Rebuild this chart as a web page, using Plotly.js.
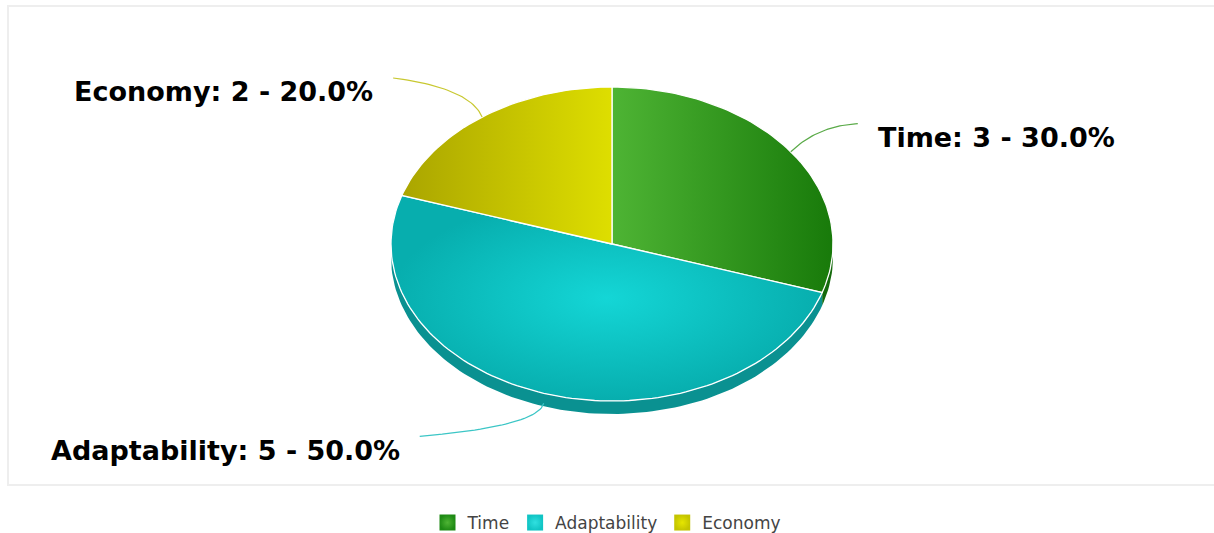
<!DOCTYPE html>
<html><head><meta charset="utf-8">
<script src="https://cdn.plot.ly/plotly-3.0.1.min.js"></script>
<style>html,body{margin:0;padding:0;background:#fff}#chart{width:1214px;height:533px}</style>
</head><body><div id="chart"></div>
<script>
// ---- data ----
const categories = ['Time', 'Adaptability', 'Economy'];
const values = [3, 5, 2];

// ---- styles ----
const faceLight = ['#4eb434', '#14d6d6', '#aaa500'];
const faceDark  = ['#187a0a', '#07aeae', '#dede00'];
const wallColor = ['#156a0c', '#0a9191', '#9a9a00'];
const leaderColor = ['#5aaa48', '#3cc6c6', '#c8c830'];
const legendColor = ['#1e8a14', '#10c4c4', '#c4c400'];
const legendLight = ['#4eb434', '#30e0e0', '#e6e600'];
// label geometry (offsets from the slice anchor, pixels)
const leaderEnd  = [[67, -28], [-124, 33], [-89, -39]];
const leaderCtrl = [[27, -26], [-6, 23], [-12, -29]];
const labelSide  = ['left', 'right', 'right'];

const CX = 612, CY = 244, RX = 221, RY = 157, DEPTH = 13, NSEG = 240;
const total = values.reduce((a, b) => a + b, 0);

function pt(t, dy) { return [CX + RX * Math.sin(t), CY - RY * Math.cos(t) + (dy || 0)]; }
function arc(t0, t1, dy) {
  const n = Math.max(2, Math.ceil(Math.abs(t1 - t0) / (2 * Math.PI) * NSEG));
  const out = [];
  for (let i = 0; i <= n; i++) out.push(pt(t0 + (t1 - t0) * i / n, dy));
  return out;
}

const walls = [], faces = [], leaders = [], legendTraces = [], annotations = [];
let acc = 0;
categories.forEach((cat, i) => {
  const t0 = acc / total * 2 * Math.PI;
  acc += values[i];
  const t1 = acc / total * 2 * Math.PI;
  // side wall (visible lower half only)
  const a = Math.max(t0, Math.PI / 2), b = Math.min(t1, 3 * Math.PI / 2);
  if (a < b) {
    const pts = arc(a, b, 0).concat(arc(b, a, DEPTH));
    pts.push(pts[0]);
    walls.push({
      type: 'scatter', mode: 'lines', x: pts.map(p => p[0]), y: pts.map(p => p[1]),
      fill: 'toself', fillcolor: wallColor[i], line: {width: 0, color: wallColor[i]},
      hoverinfo: 'skip', showlegend: false
    });
  }
  // top face
  const face = [[CX, CY]].concat(arc(t0, t1, 0)); face.push([CX, CY]);
  faces.push({
    type: 'scatter', mode: 'lines', x: face.map(p => p[0]), y: face.map(p => p[1]),
    fill: 'toself', fillcolor: faceLight[i],
    fillgradient: i === 1 ? {type: 'radial', colorscale: [[0, faceLight[i]], [1, faceDark[i]]]}
                          : {type: 'horizontal', colorscale: [[0, faceLight[i]], [1, faceDark[i]]]},
    line: {width: 1.3, color: '#ffffff'}, hoverinfo: 'skip', showlegend: false
  });
  // leader
  const tm = (t0 + t1) / 2;
  const A = pt(tm, Math.cos(tm) < 0 ? DEPTH - 3 : 0);
  const E = [A[0] + leaderEnd[i][0], A[1] + leaderEnd[i][1]];
  const C = [A[0] + leaderCtrl[i][0], A[1] + leaderCtrl[i][1]];
  const lx = [], ly = [];
  for (let k = 0; k <= 30; k++) {
    const s = k / 30;
    lx.push((1 - s) * (1 - s) * A[0] + 2 * (1 - s) * s * C[0] + s * s * E[0]);
    ly.push((1 - s) * (1 - s) * A[1] + 2 * (1 - s) * s * C[1] + s * s * E[1]);
  }
  leaders.push({type: 'scatter', mode: 'lines', x: lx, y: ly,
    line: {width: 1.2, color: leaderColor[i]}, hoverinfo: 'skip', showlegend: false});
  const pct = (values[i] / total * 100).toFixed(1);
  annotations.push({
    x: E[0] + (labelSide[i] === 'left' ? 18 : -18), y: E[1] + 14, xref: 'x', yref: 'y',
    xanchor: labelSide[i], yanchor: 'middle', showarrow: false,
    text: cat + ': ' + values[i] + ' - ' + pct + '%',
    font: {family: 'DejaVu Sans', size: 27, color: '#000000', weight: 'bold'}
  });
  legendTraces.push({
    type: 'scatter', mode: 'markers', x: [null], y: [null], name: cat,
    marker: {symbol: 'square', size: 17, color: legendColor[i],
      gradient: {type: 'radial', color: legendLight[i]}},
    hoverinfo: 'skip', showlegend: true
  });
});

const layout = {
  width: 1214, height: 533,
  margin: {l: 0, r: 0, t: 0, b: 0, autoexpand: false},
  paper_bgcolor: '#ffffff', plot_bgcolor: 'rgba(0,0,0,0)',
  xaxis: {range: [0, 1214], visible: false, fixedrange: true},
  yaxis: {range: [533, 0], visible: false, fixedrange: true},
  showlegend: true,
  legend: {orientation: 'h', x: 0.5, xanchor: 'center', y: 1 - 523 / 533, yanchor: 'middle',
    font: {family: 'DejaVu Sans', size: 17, color: '#444444'}, itemclick: false, itemdoubleclick: false},
  annotations: annotations,
  shapes: [
    {type: 'rect', xref: 'x', yref: 'y', x0: 8, y0: 6, x1: 1220, y1: 485,
     line: {color: '#eeeeee', width: 2}, fillcolor: 'rgba(0,0,0,0)', layer: 'below'}
  ]
};

Plotly.newPlot('chart', walls.concat(faces, leaders, legendTraces), layout,
  {displayModeBar: false, staticPlot: false, responsive: false});
</script>
</body></html>
